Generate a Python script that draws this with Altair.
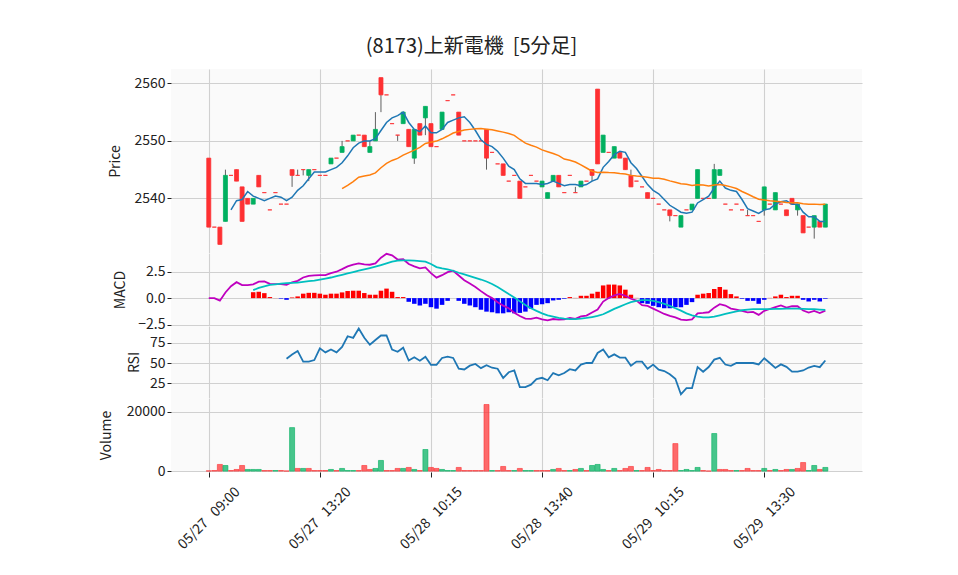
import altair as alt
import pandas as pd

# ---------------- data ----------------
opens = [2547,2535,2535,2536,2544,2545,2542,2540,2539,2544,
         2541,2538,2541,2539,2539,2545,2544,2545,2544,2545,
         2544,2544,2546,2547,2548,2550,2550,2551,2551,2548,
         2550,2561,2558,2553,2551,2553,2552,2547,2553,2554,
         2553,2549,2552,2557,2558,2555,2550,2550,2550,2550,
         2552,2548,2546,2546,2543,2544,2543,2542,2544,2543,
         2542,2540,2543,2544,2541,2544,2541,2542,2543,2545,
         2559,2548,2548,2547,2548,2547,2544,2543,2542,2541,
         2540,2539,2538,2538,2537,2535,2538,2538,2540,2540,
         2540,2540,2544,2539,2538,2539,2538,2537,2537,2536,
         2538,2539,2538,2539,2538,2540,2538,2537,2535,2535,
         2536,2535]
closes = [2535,2535,2532,2544,2544,2543,2536,2539,2540,2542,
          2541,2538,2541,2539,2539,2544,2544,2545,2545,2545,
          2544,2544,2547,2547,2549,2550,2551,2551,2549,2549,
          2552,2558,2558,2553,2551,2555,2549,2552,2551,2556,
          2549,2549,2555,2557,2558,2551,2550,2550,2550,2550,
          2547,2548,2546,2544,2543,2544,2540,2542,2544,2543,
          2543,2541,2544,2542,2541,2544,2541,2543,2543,2544,
          2546,2551,2548,2549,2547,2545,2542,2543,2542,2540,
          2540,2539,2538,2537,2537,2537,2538,2539,2545,2540,
          2540,2545,2545,2539,2538,2539,2538,2537,2537,2536,
          2542,2539,2541,2539,2537,2539,2539,2534,2535,2537,
          2535,2539]
highs = [2547,2535,2535,2545,2544,2545,2542,2540,2540,2544,
         2541,2538,2541,2539,2539,2545,2545,2545,2545,2545,
         2544,2544,2547,2547,2550,2550,2551,2551,2551,2550,
         2555,2561,2558,2553,2551,2555,2552,2552,2553,2556,
         2553,2549,2555,2557,2558,2555,2550,2550,2550,2550,
         2552,2548,2546,2546,2543,2544,2543,2542,2544,2543,
         2543,2541,2544,2544,2541,2544,2542,2543,2543,2545,
         2559,2551,2548,2549,2548,2547,2545,2543,2542,2541,
         2540,2539,2538,2538,2537,2537,2538,2539,2545,2540,
         2540,2546,2545,2539,2538,2539,2538,2538,2537,2536,
         2542,2539,2541,2539,2538,2540,2539,2537,2535,2537,
         2536,2539]
lows = [2535,2535,2532,2536,2544,2543,2536,2539,2539,2542,
        2541,2538,2541,2539,2539,2542,2544,2544,2543,2545,
        2544,2544,2546,2547,2548,2550,2550,2551,2549,2548,
        2550,2555,2558,2553,2550,2553,2549,2546,2551,2551,
        2549,2549,2552,2557,2558,2551,2550,2550,2550,2550,
        2545,2548,2546,2544,2543,2544,2540,2542,2544,2543,
        2542,2540,2543,2542,2541,2544,2541,2542,2543,2543,
        2546,2548,2548,2547,2547,2545,2542,2543,2542,2540,
        2540,2539,2538,2536,2537,2535,2538,2538,2540,2540,
        2540,2540,2544,2539,2538,2539,2538,2537,2537,2536,
        2537,2539,2538,2539,2537,2539,2537,2534,2535,2533,
        2535,2535]
volumes = [100,200,2250,1900,200,560,1900,560,560,560,
           200,200,200,200,50,14700,900,900,900,200,
           200,200,560,200,900,200,200,200,1900,560,
           900,3600,200,200,900,900,1240,560,200,7300,
           1240,900,560,200,200,1240,200,200,200,200,
           22500,200,200,1570,200,200,900,200,200,200,
           200,200,560,900,200,200,560,900,200,1900,
           2250,560,200,900,200,900,1570,200,200,1240,
           200,560,200,200,9300,200,560,200,1240,200,
           50,12700,560,560,200,200,200,900,200,200,
           900,200,560,200,560,560,900,2900,200,1900,
           560,1240]
# volume bar colour read per bar: u = green, d = red
vol_dir_rows = ["ddduddduuu", "dduddududd", "dduduuuddd", "uudddududu",
                "dduuuddddd", "duddduduud", "dduddududu", "uududddudd",
                "ddddduuuud", "dudddudddd", "ududdudduu", "du"]
ma5 = [2538.0,2539.6,2539.8,2541.2,2540.4,2540.0,2539.6,2540.0,2540.4,2540.2,
       2539.6,2540.2,2541.4,2542.2,2543.4,2544.6,2544.6,2544.6,2545.0,2545.4,
       2546.2,2547.4,2548.8,2549.6,2550.0,2550.0,2550.4,2551.8,2553.2,2554.0,
       2554.4,2555.0,2553.2,2552.0,2551.6,2552.6,2551.4,2551.4,2552.0,2553.2,
       2553.6,2554.0,2554.2,2553.2,2551.8,2550.2,2549.4,2549.0,2548.2,2547.0,
       2545.6,2545.0,2543.4,2542.6,2542.6,2542.6,2542.4,2542.6,2543.0,2542.6,
       2542.2,2542.4,2542.4,2542.2,2542.4,2543.0,2543.4,2545.4,2546.4,2547.6,
       2548.2,2548.0,2546.2,2545.2,2543.8,2542.4,2541.4,2540.8,2539.8,2538.8,
       2538.2,2537.6,2537.4,2537.6,2539.2,2539.8,2540.4,2541.8,2543.0,2541.8,
       2541.4,2541.2,2539.8,2538.2,2537.8,2537.4,2538.0,2538.2,2539.0,2539.4,
       2539.6,2539.0,2539.0,2537.6,2536.8,2536.8,2536.0,2536.0]
ma25 = [2541.68,2542.28,2542.92,2543.68,2543.88,2544.08,2544.44,2545.32,2546.08,2546.60,
        2546.96,2547.52,2547.96,2548.40,2548.88,2549.56,2549.76,2549.96,2550.36,2550.84,
        2551.36,2551.64,2551.88,2552.00,2552.12,2552.16,2552.04,2551.92,2551.72,2551.52,
        2551.28,2550.96,2550.24,2549.60,2549.24,2548.92,2548.44,2548.12,2547.80,2547.44,
        2546.84,2546.64,2546.32,2545.84,2545.28,2544.72,2544.52,2544.56,2544.48,2544.44,
        2544.32,2544.24,2544.00,2543.88,2543.80,2543.68,2543.52,2543.48,2543.32,2543.04,
        2542.80,2542.56,2542.44,2542.24,2542.36,2542.32,2542.16,2542.32,2542.40,2542.24,
        2542.00,2541.72,2541.20,2540.76,2540.28,2539.84,2539.72,2539.60,2539.52,2539.40,
        2539.28,2539.24,2539.24,2539.08,2539.00,2539.00,2538.92,2538.96]
macd = [0,0,-0.24,0.53,1.13,1.51,1.23,1.23,
        1.30,1.56,1.59,1.35,1.32,1.32,1.25,1.50,1.63,1.95,
        2.10,2.16,2.18,2.17,2.37,2.50,2.74,3.00,3.16,3.29,
        3.20,3.16,3.29,3.83,4.19,4.05,3.65,3.68,3.23,3.01,
        2.81,2.91,2.37,1.94,2.17,2.46,2.59,2.14,1.70,1.38,
        1.06,0.66,0.29,0.00,-0.39,-0.71,-0.96,-1.38,-1.70,-1.94,
        -1.96,-1.85,-2.02,-2.11,-1.98,-2.04,-2.01,-1.88,-1.96,-1.73,
        -1.66,-1.37,-1.09,-0.33,0.00,0.26,0.40,0.22,-0.06,-0.24,
        -0.67,-0.73,-0.99,-1.24,-1.50,-1.69,-1.82,-2.04,-2.08,-2.01,
        -1.44,-1.40,-1.34,-0.90,-0.58,-0.70,-0.99,-1.09,-1.21,-1.35,
        -1.31,-1.59,-1.21,-1.03,-0.86,-0.70,-0.89,-0.77,-0.77,-1.18,
        -1.37,-1.21,-1.41,-1.18]
signal = [0.75,0.96,1.12,1.25,1.31,1.37,1.41,1.44,1.47,1.53,
          1.60,1.66,1.76,1.85,1.95,2.08,2.20,2.33,2.46,2.59,
          2.72,2.84,2.97,3.13,3.29,3.45,3.55,3.58,3.58,3.55,
          3.51,3.45,3.23,2.94,2.81,2.72,2.59,2.40,2.24,2.08,
          1.92,1.76,1.57,1.34,1.05,0.73,0.38,0.06,-0.30,-0.66,
          -0.96,-1.21,-1.44,-1.63,-1.76,-1.88,-1.95,-1.98,-1.98,-1.95,
          -1.88,-1.79,-1.69,-1.53,-1.28,-1.02,-0.80,-0.58,-0.38,-0.26,
          -0.19,-0.19,-0.26,-0.38,-0.54,-0.73,-0.96,-1.18,-1.44,-1.63,
          -1.76,-1.82,-1.82,-1.76,-1.63,-1.50,-1.37,-1.25,-1.15,-1.09,
          -1.05,-1.05,-1.05,-1.05,-1.02,-1.02,-0.99,-0.99,-0.99,-1.02,
          -1.05,-1.05,-1.09,-1.12]
hist = [0.56,0.60,0.47,0.10,0.01,-0.05,-0.16,0.06,0.16,0.42,
        0.50,0.50,0.42,0.32,0.42,0.42,0.54,0.67,0.70,0.70,
        0.48,0.32,0.32,0.70,0.90,0.60,0.10,0.10,-0.35,-0.54,
        -0.70,-0.54,-0.86,-1.00,-0.64,-0.26,0.00,-0.26,-0.54,-0.70,
        -0.86,-1.10,-1.28,-1.34,-1.44,-1.44,-1.34,-1.44,-1.40,-1.28,
        -1.00,-0.64,-0.58,-0.48,-0.22,-0.16,-0.06,0.10,0.02,0.22,
        0.22,0.42,0.60,1.20,1.28,1.28,1.20,0.80,0.32,0.02,
        -0.48,-0.54,-0.73,-0.86,-0.96,-0.96,-0.86,-0.86,-0.64,-0.38,
        0.32,0.42,0.48,0.86,1.05,0.80,0.38,0.16,-0.06,-0.26,
        -0.26,-0.54,-0.16,0.02,0.16,0.32,0.10,0.22,0.22,-0.16,
        -0.32,-0.16,-0.32,-0.06]
rsi = [55.3,60.5,65.0,51.7,51.7,53.6,68.2,63.2,66.7,63.2,
       70.0,83.3,81.3,92.9,81.3,72.7,78.6,84.2,84.2,66.7,
       64.0,69.0,53.1,57.1,52.9,57.9,47.7,47.7,56.3,58.0,
       56.3,42.9,42.0,46.7,48.8,43.6,47.2,44.1,42.9,31.3,
       38.5,40.7,20.0,20.0,23.1,30.0,31.6,28.6,37.5,34.6,
       37.5,42.3,40.7,48.1,50.0,50.0,62.5,66.7,57.1,60.7,
       56.7,56.7,46.7,51.7,51.7,42.9,48.0,41.7,40.0,36.0,
       30.4,11.1,18.8,18.8,45.0,39.1,45.0,54.2,56.5,48.1,
       46.4,50.0,50.0,50.0,50.0,48.3,55.9,50.0,43.8,48.3,
       45.2,39.3,39.3,40.7,44.4,46.4,44.8,53.1]
tick_pos = [0, 20, 40, 60, 80, 100]
tick_labels = ["05/27   09:00", "05/27   13:20", "05/28   10:15",
               "05/28   13:40", "05/29   10:15", "05/29   13:30"]
title_text = "(8173)上新電機\u00a0 [5分足]"

# ---------------- table ----------------
n = len(closes)
vol_dir = "".join(vol_dir_rows)


def pad(arr):
    return [None] * (n - len(arr)) + list(arr)


df = pd.DataFrame({
    "idx": list(range(n)),
    "open": opens, "close": closes, "high": highs, "low": lows,
    "volume": volumes,
    "vdir": ["up" if c == "u" else "down" for c in vol_dir],
    "cdir": ["up" if c > o else "down" for o, c in zip(opens, closes)],
    "ma5": pad(ma5), "ma25": pad(ma25),
    "macd": macd, "signal": pad(signal), "hist": pad(hist),
    "rsi": pad(rsi),
})

FONT = "Noto Sans CJK JP"
TXT = "#222222"
W = 691
UP, DOWN = "#00b060", "#fe3032"

x_scale = alt.Scale(domain=[-6.8, 117.6], nice=False, zero=False, padding=0)
label_expr = " : ".join(
    "datum.value == %d ? '%s'" % (p, t.replace(" ", "\u00a0"))
    for p, t in zip(tick_pos, tick_labels)) + " : ''"

x_hidden = alt.Axis(values=tick_pos, labels=False, ticks=False, domain=False,
                    grid=True, title=None, maxExtent=0, minExtent=0)
x_bottom = alt.Axis(values=tick_pos, labelExpr=label_expr, labelAngle=315,
                    labelAlign="center", labelBaseline="middle", labelPadding=41,
                    tickSize=5, tickColor=TXT, domain=False, grid=True, title=None,
                    labelOverlap=False, labelFlush=False, labelFontSize=14)


def X(axis):
    return alt.X("idx:Q", scale=x_scale, axis=axis, title=None)


def yax(values, title, fmt, tp):
    return alt.Axis(values=values, title=title, grid=True, domain=False, ticks=True,
                    tickSize=4, tickColor=TXT, labelFlush=False, titlePadding=tp,
                    format=fmt)


def sc(domain):
    return alt.Scale(domain=domain, nice=False, zero=False, padding=0)


cdir_scale = alt.Scale(domain=["up", "down"], range=[UP, DOWN])
base = alt.Chart(df)

# price panel
ps = sc([2530.5, 2562.5])
pax = yax([2540, 2550, 2560], "Price", "d", 11)
wick = base.mark_rule(color="#606060", strokeWidth=1).encode(
    x=X(x_hidden), y=alt.Y("low:Q", scale=ps, axis=pax, title="Price"), y2="high:Q")
body = base.mark_bar(size=4, strokeWidth=0.8).encode(
    x=X(x_hidden), y=alt.Y("open:Q", scale=ps, axis=pax, title="Price"), y2="close:Q",
    color=alt.Color("cdir:N", scale=cdir_scale, legend=None),
    stroke=alt.Stroke("cdir:N", scale=cdir_scale, legend=None))
l5 = base.mark_line(color="#1f77b4", strokeWidth=1.5).encode(
    x=X(x_hidden), y=alt.Y("ma5:Q", scale=ps, axis=pax, title="Price"))
l25 = base.mark_line(color="#ff7f0e", strokeWidth=1.5).encode(
    x=X(x_hidden), y=alt.Y("ma25:Q", scale=ps, axis=pax, title="Price"))
price = alt.layer(wick, body, l5, l25).properties(width=W, height=184)

# MACD panel
ms = sc([-2.64, 4.27])
max_ = yax([-2.5, 0, 2.5], "MACD", ".1f", 10)
hbar = base.mark_bar(size=4.5).encode(
    x=X(x_hidden), y=alt.Y("hist:Q", scale=ms, axis=max_, title="MACD"),
    color=alt.condition("datum.hist >= 0", alt.value("#ff0000"), alt.value("#0000ff")))
mline = base.mark_line(color="#bf00bf", strokeWidth=1.8).encode(
    x=X(x_hidden), y=alt.Y("macd:Q", scale=ms, axis=max_, title="MACD"))
sline = base.mark_line(color="#00bfbf", strokeWidth=1.8).encode(
    x=X(x_hidden), y=alt.Y("signal:Q", scale=ms, axis=max_, title="MACD"))
macd_panel = alt.layer(hbar, mline, sline).properties(width=W, height=73)

# RSI panel
rline = base.mark_line(color="#1f77b4", strokeWidth=1.8).encode(
    x=X(x_hidden),
    y=alt.Y("rsi:Q", scale=sc([6.5, 96]), axis=yax([25, 50, 75], "RSI", "d", 8),
            title="RSI"))
rsi_panel = rline.properties(width=W, height=72)

# Volume panel
vbar = base.mark_bar(size=5, strokeWidth=0.6, fillOpacity=0.72).encode(
    x=X(x_bottom),
    y=alt.Y("volume:Q", scale=sc([-300, 24700]), axis=yax([0, 20000], "Volume", "d", 13),
            title="Volume"),
    color=alt.Color("vdir:N", scale=cdir_scale, legend=None),
    stroke=alt.Stroke("vdir:N", scale=cdir_scale, legend=None))
vol_panel = vbar.properties(width=W, height=74)

chart = alt.vconcat(price, macd_panel, rsi_panel, vol_panel, spacing=0,
                    bounds="flush").properties(
    title=alt.TitleParams(text=title_text, fontSize=20, font=FONT, fontWeight="normal",
                          color=TXT, anchor="middle", dx=-9, offset=12),
    padding={"left": 91, "top": 29, "right": 5, "bottom": 5},
    background="white",
).configure_view(stroke=None, fill="#fafafa").configure_axis(
    labelFont=FONT, titleFont=FONT, labelColor=TXT, titleColor=TXT,
    labelFontSize=14, titleFontSize=14, titleFontWeight="normal",
    gridColor="#d0d0d0", gridWidth=1.1)

chart.save("out.html", embed_options={"renderer": "svg", "actions": False})
